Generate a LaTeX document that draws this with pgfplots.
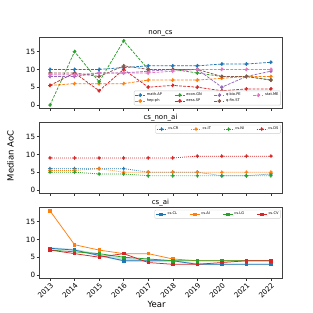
\documentclass[border=0pt]{standalone}
\usepackage{fontspec}
\setmainfont{DejaVu Sans}
\usepackage{pgfplots}
\pgfplotsset{compat=1.18}
\definecolor{c0}{HTML}{1F77B4}
\definecolor{c1}{HTML}{FF7F0E}
\definecolor{c2}{HTML}{2CA02C}
\definecolor{c3}{HTML}{D62728}
\definecolor{c4}{HTML}{9467BD}
\definecolor{c5}{HTML}{8C564B}
\definecolor{c6}{HTML}{E377C2}
\tikzset{dsh/.style={dash pattern=on 2.8pt off 1.3pt}, dtt/.style={dash pattern=on 0.8pt off 1.2pt}}
\pgfplotsset{
  panel/.style={
    scale only axis, width=243pt, height=70.5pt,
    xmin=2012.55, xmax=2022.45, ymin=-0.9, ymax=18.9,
    ytick={0,5,10,15}, xtick={2013,2014,...,2022},
    axis line style={black!75, line width=0.5pt},
    tick align=outside, xtick pos=bottom, ytick pos=left,
    major tick length=2.5pt,
    tick style={black!80, line width=0.5pt},
    ticklabel style={font=\fontsize{7.2}{8}\selectfont},
    yticklabel style={inner sep=1.2pt},
    /pgf/number format/assume math mode=true,
    /pgf/number format/1000 sep={},
    every axis title shift=0pt,
    title style={font=\fontsize{7}{8}\selectfont, at={(0.5,1)}, anchor=south, yshift=0pt, inner sep=1.2pt},
    legend style={font=\fontsize{3.6}{4}\selectfont, draw=black!20, rounded corners=1pt,
      inner sep=0.8pt, row sep=-1pt, nodes={inner sep=1.3pt},
      /tikz/every even column/.append style={column sep=11pt}},
    legend cell align=left,
    legend image code/.code={\draw[mark repeat=2,mark phase=2] plot coordinates {(0pt,0pt)(5pt,0pt)(10pt,0pt)};},
    every axis plot/.append style={line width=0.75pt, mark=*, mark size=1.5pt},
  },
}
\begin{document}
\begin{tikzpicture}[x=1pt,y=1pt]
\path[use as bounding box] (0,0) rectangle (313,313);
% Panel 1
\begin{axis}[panel, at={(39pt,204.8pt)}, anchor=south west, title={non\_cs}, xticklabels={},
  legend columns=4, legend style={at={(0.995,0.04)}, anchor=south east}]
\addplot[c0, dsh, forget plot] coordinates {(2013,10)(2014,10)(2015,10)(2016,10.5)(2017,11)(2018,11)(2019,11)(2020,11.5)(2021,11.5)(2022,12)};
\addplot[c1, dsh, forget plot] coordinates {(2013,5.5)(2014,6)(2015,6)(2016,6)(2017,7)(2018,7)(2019,7)(2020,7.5)(2021,8)(2022,8)};
\addplot[c2, dsh, forget plot] coordinates {(2013,0)(2014,15)(2015,6.5)(2016,18)(2017,10)(2018,10)(2019,9)(2020,8)(2021,8)(2022,7)};
\addplot[c3, dsh, forget plot] coordinates {(2013,5.5)(2014,9)(2015,4)(2016,10)(2017,5)(2018,5.5)(2019,5)(2020,4)(2021,4.5)(2022,4.5)};
\addplot[c4, dsh, forget plot] coordinates {(2013,8)(2014,8)(2015,9)(2016,9)(2017,9.5)(2018,10)(2019,10)(2020,5)(2021,8)(2022,9.5)};
\addplot[c5, dsh, forget plot] coordinates {(2013,9)(2014,9)(2015,8)(2016,11)(2017,10)(2018,10)(2019,10)(2020,8)(2021,8)(2022,7)};
\addplot[c6, dsh, forget plot] coordinates {(2013,8.5)(2014,8.5)(2015,9)(2016,9)(2017,9)(2018,9.5)(2019,10)(2020,10)(2021,10)(2022,10)};
\addlegendimage{c0, dsh, line width=0.75pt, mark=*, mark size=1.5pt}\addlegendentry{math.AP}
\addlegendimage{c2, dsh, line width=0.75pt, mark=*, mark size=1.5pt}\addlegendentry{econ.GN}
\addlegendimage{c4, dsh, line width=0.75pt, mark=*, mark size=1.5pt}\addlegendentry{q-bio.PE}
\addlegendimage{c6, dsh, line width=0.75pt, mark=*, mark size=1.5pt}\addlegendentry{stat.ME}
\addlegendimage{c1, dsh, line width=0.75pt, mark=*, mark size=1.5pt}\addlegendentry{hep-ph}
\addlegendimage{c3, dsh, line width=0.75pt, mark=*, mark size=1.5pt}\addlegendentry{eess.SP}
\addlegendimage{c5, dsh, line width=0.75pt, mark=*, mark size=1.5pt}\addlegendentry{q-fin.ST}
\end{axis}
% Panel 2
\begin{axis}[panel, at={(39pt,119.8pt)}, anchor=south west, title={cs\_non\_ai}, xticklabels={},
  legend columns=4, legend style={at={(0.995,0.97)}, anchor=north east}]
\addplot[c0, dtt] coordinates {(2013,6)(2014,6)(2015,6)(2016,6)(2017,5)(2018,5)(2019,5)(2020,4)(2021,4)(2022,4.5)};
\addlegendentry{cs.CR}
\addplot[c1, dtt] coordinates {(2013,5.5)(2014,5.5)(2015,6)(2016,5)(2017,5)(2018,5)(2019,5)(2020,5)(2021,5)(2022,5)};
\addlegendentry{cs.IT}
\addplot[c2, dtt] coordinates {(2013,5)(2014,5)(2015,4.5)(2016,4.5)(2017,4)(2018,4)(2019,4)(2020,4)(2021,4)(2022,4)};
\addlegendentry{cs.NI}
\addplot[c3, dtt] coordinates {(2013,9)(2014,9)(2015,9)(2016,9)(2017,9)(2018,9)(2019,9.5)(2020,9.5)(2021,9.5)(2022,9.5)};
\addlegendentry{cs.DS}
\end{axis}
% Panel 3
\begin{axis}[panel, at={(39pt,34.8pt)}, anchor=south west, title={cs\_ai},
  xticklabel style={rotate=45, anchor=north east, inner sep=0.8pt},
  legend columns=4, legend style={at={(0.995,0.97)}, anchor=north east},
  every axis plot/.append style={mark=square*, mark size=1.2pt}]
\addplot[fill=c0, fill opacity=0.25, draw=none, mark=none, forget plot] coordinates {(2013,7.8)(2014,7.3)(2015,6.0)(2016,4.8)(2017,4.5)(2018,4.2)(2019,3.3)(2020,3.15)(2021,3.1)(2022,3.1)(2022,2.9)(2021,2.9)(2020,2.85)(2019,2.8)(2018,3.8)(2017,3.7)(2016,3.8)(2015,5.2)(2014,6.8)(2013,7.2)} -- cycle;
\addplot[c0] coordinates {(2013,7.5)(2014,7)(2015,5.5)(2016,4)(2017,4)(2018,4)(2019,3)(2020,3)(2021,3)(2022,3)};
\addlegendentry{cs.CL}
\addplot[c1] coordinates {(2013,18)(2014,8.5)(2015,7)(2016,6)(2017,6)(2018,4.5)(2019,4)(2020,4)(2021,4)(2022,4)};
\addlegendentry{cs.AI}
\addplot[c2] coordinates {(2013,7)(2014,6.5)(2015,6)(2016,5)(2017,4.5)(2018,4)(2019,4)(2020,4)(2021,4)(2022,4)};
\addlegendentry{cs.LG}
\addplot[c3] coordinates {(2013,7)(2014,6)(2015,5)(2016,6)(2017,3.5)(2018,3)(2019,3)(2020,3.5)(2021,4)(2022,4)};
\addlegendentry{cs.CV}
\end{axis}
\node[rotate=90, font=\fontsize{8.5}{9}\selectfont] at (10.5,157) {Median AoC};
\node[font=\fontsize{8.5}{9}\selectfont] at (156.5,9) {Year};
\end{tikzpicture}
\end{document}
